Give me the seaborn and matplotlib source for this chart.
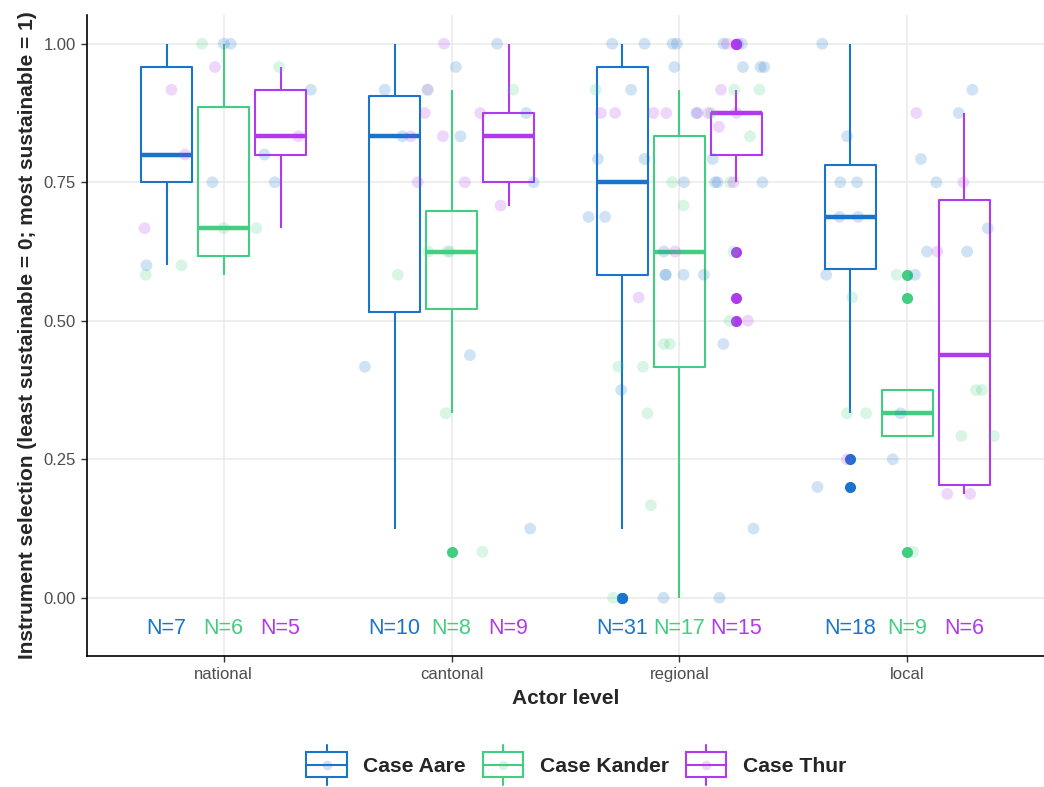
import numpy as np
import pandas as pd
import matplotlib
matplotlib.use("Agg")
import matplotlib.pyplot as plt
import seaborn as sns
from matplotlib.patches import Patch, Rectangle
from matplotlib.lines import Line2D
from matplotlib.legend_handler import HandlerBase

# --- data ---
levels = ["national", "cantonal", "regional", "local"]
cases = ["Case Aare", "Case Kander", "Case Thur"]
colors = ["#1874CD", "#43CD80", "#B23AEE"]

aare_national = [0.6, 0.75, 0.75, 0.8, 0.917, 1.0, 1.0]
kander_national = [0.583, 0.6, 0.667, 0.667, 0.958, 1.0]
thur_national = [0.667, 0.8, 0.833, 0.917, 0.958]

aare_cantonal = [0.125, 0.417, 0.438, 0.75, 0.833, 0.833, 0.875, 0.917, 0.958, 1.0]
kander_cantonal = [0.083, 0.333, 0.583, 0.625, 0.625, 0.625, 0.917, 0.917]
thur_cantonal = [0.708, 0.75, 0.75, 0.833, 0.833, 0.875, 0.875, 0.917, 1.0]

aare_regional = [0.0, 0.0, 0.125, 0.375, 0.458, 0.583, 0.583, 0.583, 0.583, 0.625,
                 0.6875, 0.6875, 0.75, 0.75, 0.75, 0.75, 0.792, 0.792, 0.792, 0.875,
                 0.917, 0.958, 0.958, 0.958, 0.958, 1.0, 1.0, 1.0, 1.0, 1.0, 1.0]
kander_regional = [0.0, 0.167, 0.333, 0.417, 0.417, 0.458, 0.458, 0.5, 0.625, 0.708,
                   0.75, 0.75, 0.833, 0.875, 0.917, 0.917, 0.917]
thur_regional = [0.5, 0.542, 0.625, 0.75, 0.85, 0.875, 0.875, 0.875, 0.875, 0.875,
                 0.875, 0.875, 0.917, 1.0, 1.0]

aare_local = [0.2, 0.25, 0.333, 0.583, 0.583, 0.625, 0.625, 0.667, 0.6875, 0.6875,
              0.75, 0.75, 0.75, 0.792, 0.833, 0.875, 0.917, 1.0]
kander_local = [0.083, 0.292, 0.292, 0.333, 0.333, 0.375, 0.375, 0.542, 0.583]
thur_local = [0.1875, 0.1875, 0.25, 0.625, 0.75, 0.875]

series = {
    ("national", "Case Aare"): aare_national,
    ("national", "Case Kander"): kander_national,
    ("national", "Case Thur"): thur_national,
    ("cantonal", "Case Aare"): aare_cantonal,
    ("cantonal", "Case Kander"): kander_cantonal,
    ("cantonal", "Case Thur"): thur_cantonal,
    ("regional", "Case Aare"): aare_regional,
    ("regional", "Case Kander"): kander_regional,
    ("regional", "Case Thur"): thur_regional,
    ("local", "Case Aare"): aare_local,
    ("local", "Case Kander"): kander_local,
    ("local", "Case Thur"): thur_local,
}
rows = [(lvl, case, v) for (lvl, case), vals in series.items() for v in vals]
df = pd.DataFrame(rows, columns=["level", "case", "value"])

# --- plot ---
sns.set_style("white")
plt.rcParams["font.family"] = ["Liberation Sans", "DejaVu Sans"]

fig = plt.figure(figsize=(10.44, 7.87), dpi=100)
ax = fig.add_axes([0.0833, 0.1665, 0.9167, 0.8145])
pal = dict(zip(cases, colors))

sns.boxplot(data=df, x="level", y="value", hue="case", order=levels, hue_order=cases,
            palette=pal, saturation=1, fill=False, width=0.75, gap=0.1, linewidth=1.5,
            showcaps=False, fliersize=8, legend=False,
            medianprops={"linewidth": 3.2},
            flierprops={"marker": "o", "markeredgewidth": 0}, ax=ax)
# solid outlier dots in the case colour
for cont, c in zip(ax.containers, colors):
    for fl in cont.fliers:
        fl.set_markerfacecolor(c)
        fl.set_markeredgecolor(c)

np.random.seed(7)
sns.stripplot(data=df, x="level", y="value", hue="case", order=levels, hue_order=cases,
              palette=pal, dodge=False, jitter=0.4, alpha=0.2, size=8.5, linewidth=0,
              legend=False, zorder=5, ax=ax)

# N labels under each box
for i, lvl in enumerate(levels):
    for j, case in enumerate(cases):
        n = len(series[(lvl, case)])
        ax.text(i + (j - 1) * 0.25, -0.055, f"N={n}", color=colors[j], ha="center",
                va="center", fontsize=15.5)

ax.set_xlim(-0.6, 3.6)
ax.set_ylim(-0.105, 1.052)
ax.set_yticks([0, 0.25, 0.5, 0.75, 1.0])
ax.set_yticklabels(["0.00", "0.25", "0.50", "0.75", "1.00"])
ax.grid(True, color="#ebebeb", linewidth=1.2)
ax.set_axisbelow(True)
for s in ["top", "right"]:
    ax.spines[s].set_visible(False)
for s in ["left", "bottom"]:
    ax.spines[s].set_color("black")
    ax.spines[s].set_linewidth(1.2)
ax.tick_params(axis="both", colors="#333333", labelcolor="#4d4d4d", labelsize=12,
               length=4, width=1, direction="out", left=True, bottom=True, pad=4)
ax.set_xlabel("Actor level", fontsize=15, fontweight="bold", labelpad=5)
ax.set_ylabel("Instrument selection (least sustainable = 0; most sustainable = 1)",
              fontsize=15, fontweight="bold", labelpad=5)


class BoxHandler(HandlerBase):
    def create_artists(self, legend, orig_handle, xdescent, ydescent, width, height,
                       fontsize, trans):
        c = orig_handle.get_edgecolor()
        x0, y0 = -xdescent, -ydescent
        xm = x0 + width / 2
        ym = y0 + height / 2
        rect = Rectangle((x0, y0), width, height, facecolor="none", edgecolor=c, lw=1.5,
                         transform=trans)
        mid = Line2D([x0, x0 + width], [ym, ym], color=c, lw=1.5, transform=trans)
        top = Line2D([xm, xm], [y0 + height, y0 + height * 1.3], color=c, lw=1.5,
                     transform=trans)
        bot = Line2D([xm, xm], [y0, y0 - height * 0.3], color=c, lw=1.5, transform=trans)
        dot = Line2D([xm], [ym], marker="o", ms=7, color=c, alpha=0.2, mew=0,
                     transform=trans)
        return [rect, mid, top, bot, dot]


handles = [Patch(edgecolor=c, facecolor="none", label=l) for l, c in zip(cases, colors)]
fig.legend(handles=handles, loc="center", bbox_to_anchor=(0.552, 0.028), ncol=3,
           frameon=False, handler_map={Patch: BoxHandler()}, handlelength=1.9,
           handleheight=1.45, handletextpad=0.8, columnspacing=0.8,
           prop={"size": 15.2, "weight": "bold"})

fig.savefig("out.png", dpi=100)
